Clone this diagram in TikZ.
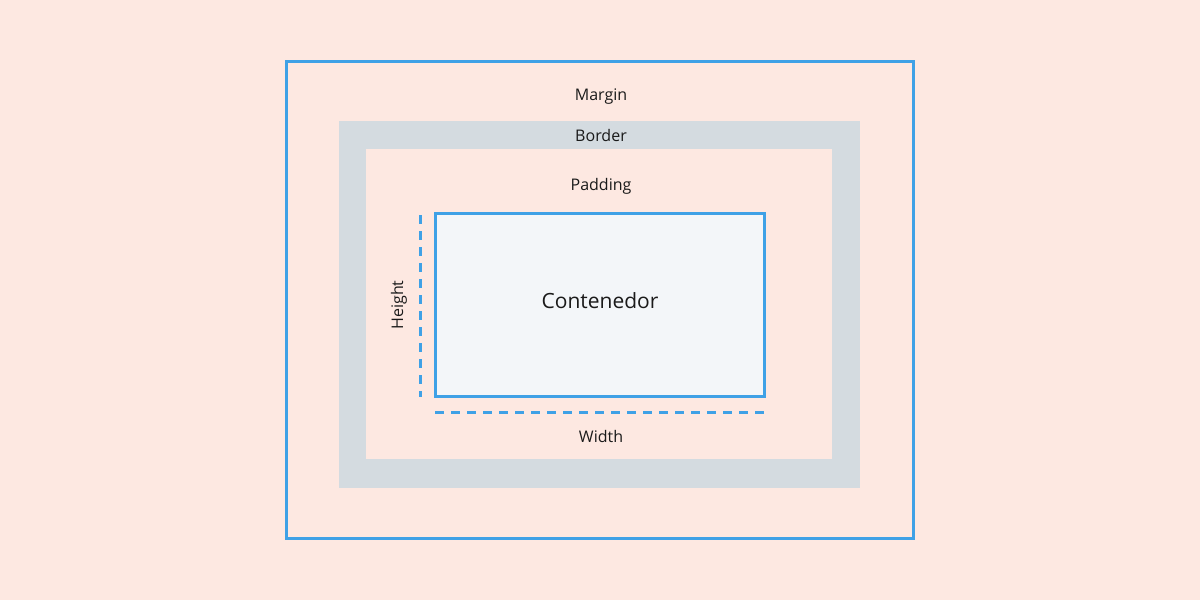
\documentclass[tikz,border=0pt]{standalone}
\usepackage{fontspec}
\setmainfont{Open Sans}
\definecolor{bgpeach}{HTML}{FDE8E1}
\definecolor{boxblue}{HTML}{3FA1E6}
\definecolor{bordergray}{HTML}{D4DBE0}
\definecolor{contentfill}{HTML}{F3F6F9}
\definecolor{txt}{HTML}{1A1A1A}
\begin{document}
\begin{tikzpicture}[x=1pt,y=-1pt,
  lbl/.style={text=txt,font=\fontsize{16}{18}\selectfont,inner sep=0pt,anchor=base},
  biglbl/.style={text=txt,font=\fontsize{21}{24}\selectfont,inner sep=0pt,anchor=base},
  dimline/.style={draw=boxblue,line width=3pt,dash pattern=on 9pt off 7pt}]
\useasboundingbox[fill=bgpeach] (0,0) rectangle (1200,600);
% margin box
\draw[boxblue,line width=3pt] (286.5,61.5) rectangle (913,538);
% border
\fill[bordergray] (339,121) rectangle (860,487.5);
\fill[bgpeach] (366,149) rectangle (832,459);
% content
\draw[boxblue,line width=3pt,fill=contentfill] (435,213.5) rectangle (764,396.5);
\node[biglbl] (content) at (600,308) {Contenedor};
\node[lbl] (margin) at (601,100) {Margin};
\node[lbl] (border) at (601,141.5) {Border};
\node[lbl] (padding) at (601,190) {Padding};
\node[lbl] (width) at (601,442) {Width};
\node[lbl,rotate=90] (height) at (403,305) {Height};
\coordinate (h1) at (420.5,215);
\coordinate (h2) at (420.5,397);
\coordinate (w1) at (435,412);
\coordinate (w2) at (765,412);
\draw[dimline] (h1) -- (h2);
\draw[dimline] (w1) -- (w2);
\end{tikzpicture}
\end{document}
